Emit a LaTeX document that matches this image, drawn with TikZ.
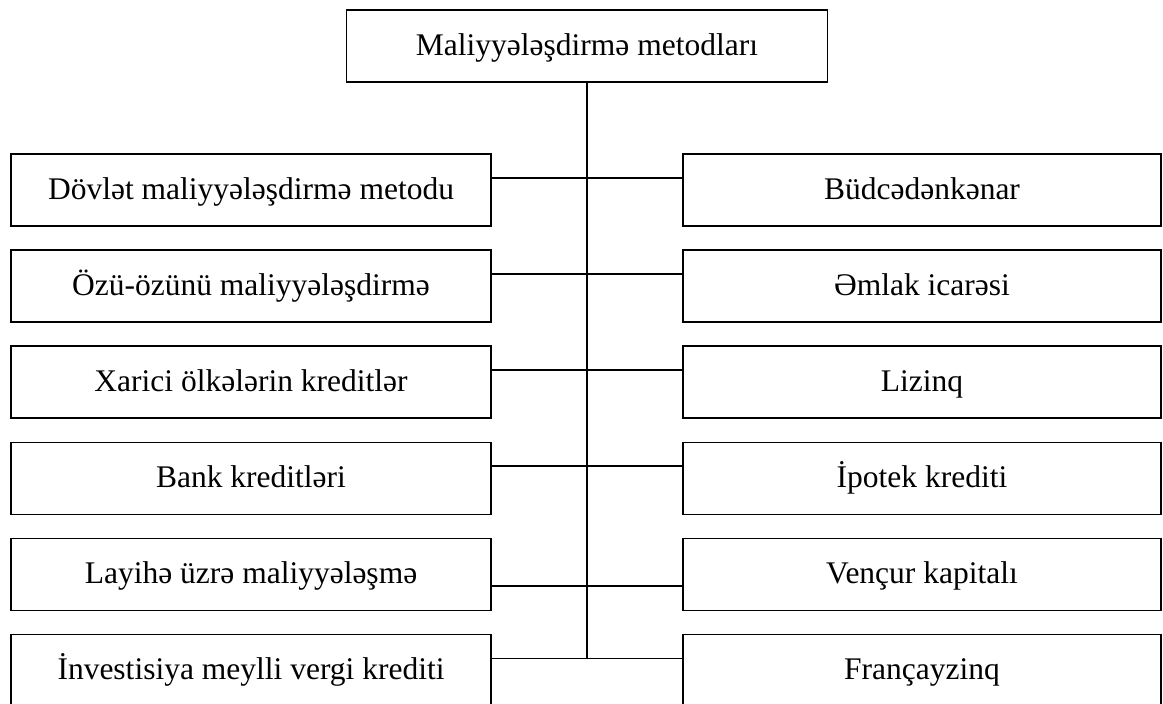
\documentclass[tikz,border=0pt]{standalone}
\usepackage{fontspec}
\setmainfont{Liberation Serif}
\begin{document}
\begin{tikzpicture}[x=1pt,y=-1pt,
  box/.style={draw=black,line width=1.2pt,rectangle,inner sep=0pt,
    minimum height=72pt,text height=24pt,text depth=6pt,
    font=\fontsize{31.5}{36}\selectfont},
  lbox/.style={box,minimum width=480pt},
  rbox/.style={box,minimum width=478pt},
  link/.style={line width=1.2pt}]
\useasboundingbox (0,0) rectangle (1163,704);
\clip (0,0) rectangle (1163,704);
% root
\node[box,minimum width=481pt] (root) at (587,46) {Maliyyələşdirmə metodları};
% left column
\node[lbox] (l1) at (251,190)   {Dövlət maliyyələşdirmə metodu};
\node[lbox] (l2) at (251,286)   {Özü-özünü maliyyələşdirmə};
\node[lbox] (l3) at (251,382)   {Xarici ölkələrin kreditlər};
\node[lbox] (l4) at (251,478.5) {Bank kreditləri};
\node[lbox] (l5) at (251,574.5) {Layihə üzrə maliyyələşmə};
\node[lbox] (l6) at (251,670.7) {İnvestisiya meylli vergi krediti};
% right column
\node[rbox] (r1) at (922,190)   {Büdcədənkənar};
\node[rbox] (r2) at (922,286)   {Əmlak icarəsi};
\node[rbox] (r3) at (922,382)   {Lizinq};
\node[rbox] (r4) at (922,478.5) {İpotek krediti};
\node[rbox] (r5) at (922,574.5) {Vençur kapitalı};
\node[rbox] (r6) at (922,670.7) {Françayzinq};
% junctions on the trunk
\coordinate (j1) at (587,178);
\coordinate (j2) at (587,274);
\coordinate (j3) at (587,370);
\coordinate (j4) at (587,466);
\coordinate (j5) at (587,586);
\coordinate (j6) at (587,658.5);
% trunk
\draw[link] (root.south) -- (j6);
% branches
\foreach \i in {1,...,6}{
  \draw[link] (l\i.east |- j\i) -- (j\i) -- (r\i.west |- j\i);
}
\end{tikzpicture}
\end{document}
